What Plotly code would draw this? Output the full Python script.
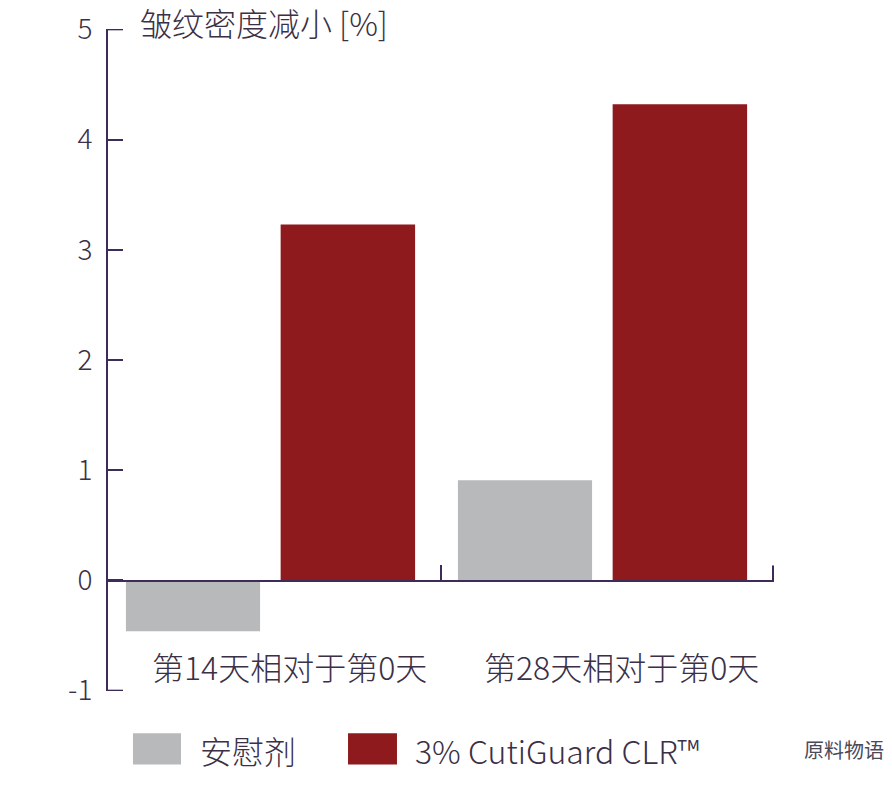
import plotly.graph_objects as go

categories = ["第14天相对于第0天", "第28天相对于第0天"]
placebo = [-0.46, 0.91]
cutiguard = [3.23, 4.32]
series_names = ["安慰剂", "3% CutiGuard CLR™"]
y_ticks = [-1, 0, 1, 2, 3, 4, 5]
title_text = "皱纹密度减小 [%]"

grey = "#b8b9bb"
red = "#8e1a1d"
txt = "#3b3046"
axis_col = "#3d2b5a"
font_fam = "Noto Sans CJK SC, Noto Sans, sans-serif"

fig = go.Figure()
fig.add_trace(go.Bar(x=categories, y=placebo, name=series_names[0],
                     width=0.404, offset=-0.449,
                     marker=dict(color=grey, line=dict(width=0)), showlegend=False))
fig.add_trace(go.Bar(x=categories, y=cutiguard, name=series_names[1],
                     width=0.405, offset=0.017,
                     marker=dict(color=red, line=dict(width=0)), showlegend=False))

fig.update_layout(
    width=892, height=792,
    margin=dict(l=108, r=118, t=29, b=101, autoexpand=False),
    paper_bgcolor="white", plot_bgcolor="white",
    barmode="group",
    font=dict(family=font_fam, color=txt),
)

fig.update_yaxes(
    range=[-1.003, 5.003], tickvals=y_ticks, ticktext=[str(v) for v in y_ticks],
    showline=True, linecolor=axis_col, linewidth=2,
    ticks="inside", ticklen=15, tickwidth=2, tickcolor=axis_col,
    showgrid=False, zeroline=False, automargin=False, ticklabeloverflow="allow",
    tickfont=dict(size=28, color=txt, weight=300), ticklabelstandoff=8,
)
fig.update_xaxes(
    range=[-0.503, 1.503], type="category",
    anchor="free", position=1/6,
    showline=True, linecolor=axis_col, linewidth=2,
    ticks="inside", tickson="boundaries", ticklen=15, tickwidth=2, tickcolor=axis_col,
    showticklabels=False, showgrid=False, zeroline=False, automargin=False,
)

# end ticks that plotly omits at the axis ends
for v in (y_ticks[0], y_ticks[-1]):
    fig.add_shape(type="line", xref="paper", yref="y", x0=0, x1=15/666, y0=v, y1=v,
                  line=dict(color=axis_col, width=2))
fig.add_shape(type="line", xref="paper", yref="y", x0=0.9985, x1=0.9985, y0=0, y1=0.136,
              line=dict(color=axis_col, width=2))

# title
fig.add_annotation(text=title_text, xref="paper", yref="paper", x=0.045, y=1.0106,
                   xanchor="left", yanchor="middle", showarrow=False,
                   font=dict(size=32, color=txt, weight=300))

# category labels
for c in categories:
    fig.add_annotation(text=c, x=c, y=-0.78, xref="x", yref="y", xshift=14,
                       showarrow=False, font=dict(size=32, color=txt, weight=300),
                       xanchor="center", yanchor="middle")

# custom legend
leg = [(series_names[0], grey, 0.0375, 0.1096, 0.1351),
       (series_names[1], red, 0.3604, 0.4339, 0.458)]
for name, col, x0, x1, tx in leg:
    fig.add_shape(type="rect", xref="paper", yref="paper", x0=x0, x1=x1,
                  y0=-0.064, y1=-0.111, fillcolor=col, line=dict(width=0))
    fig.add_annotation(text=name, xref="paper", yref="paper", x=tx, y=-0.089,
                       xanchor="left", yanchor="middle", showarrow=False,
                       font=dict(size=32, color=txt, weight=300))

# watermark
fig.add_annotation(text="原料物语", xref="paper", yref="paper", x=1.105, y=-0.089,
                   xanchor="center", yanchor="middle", showarrow=False,
                   font=dict(size=20, color="#4a4a5a"))

fig.write_html("out.html", config={"displayModeBar": False},
               post_script="document.body.style.margin='0';")
